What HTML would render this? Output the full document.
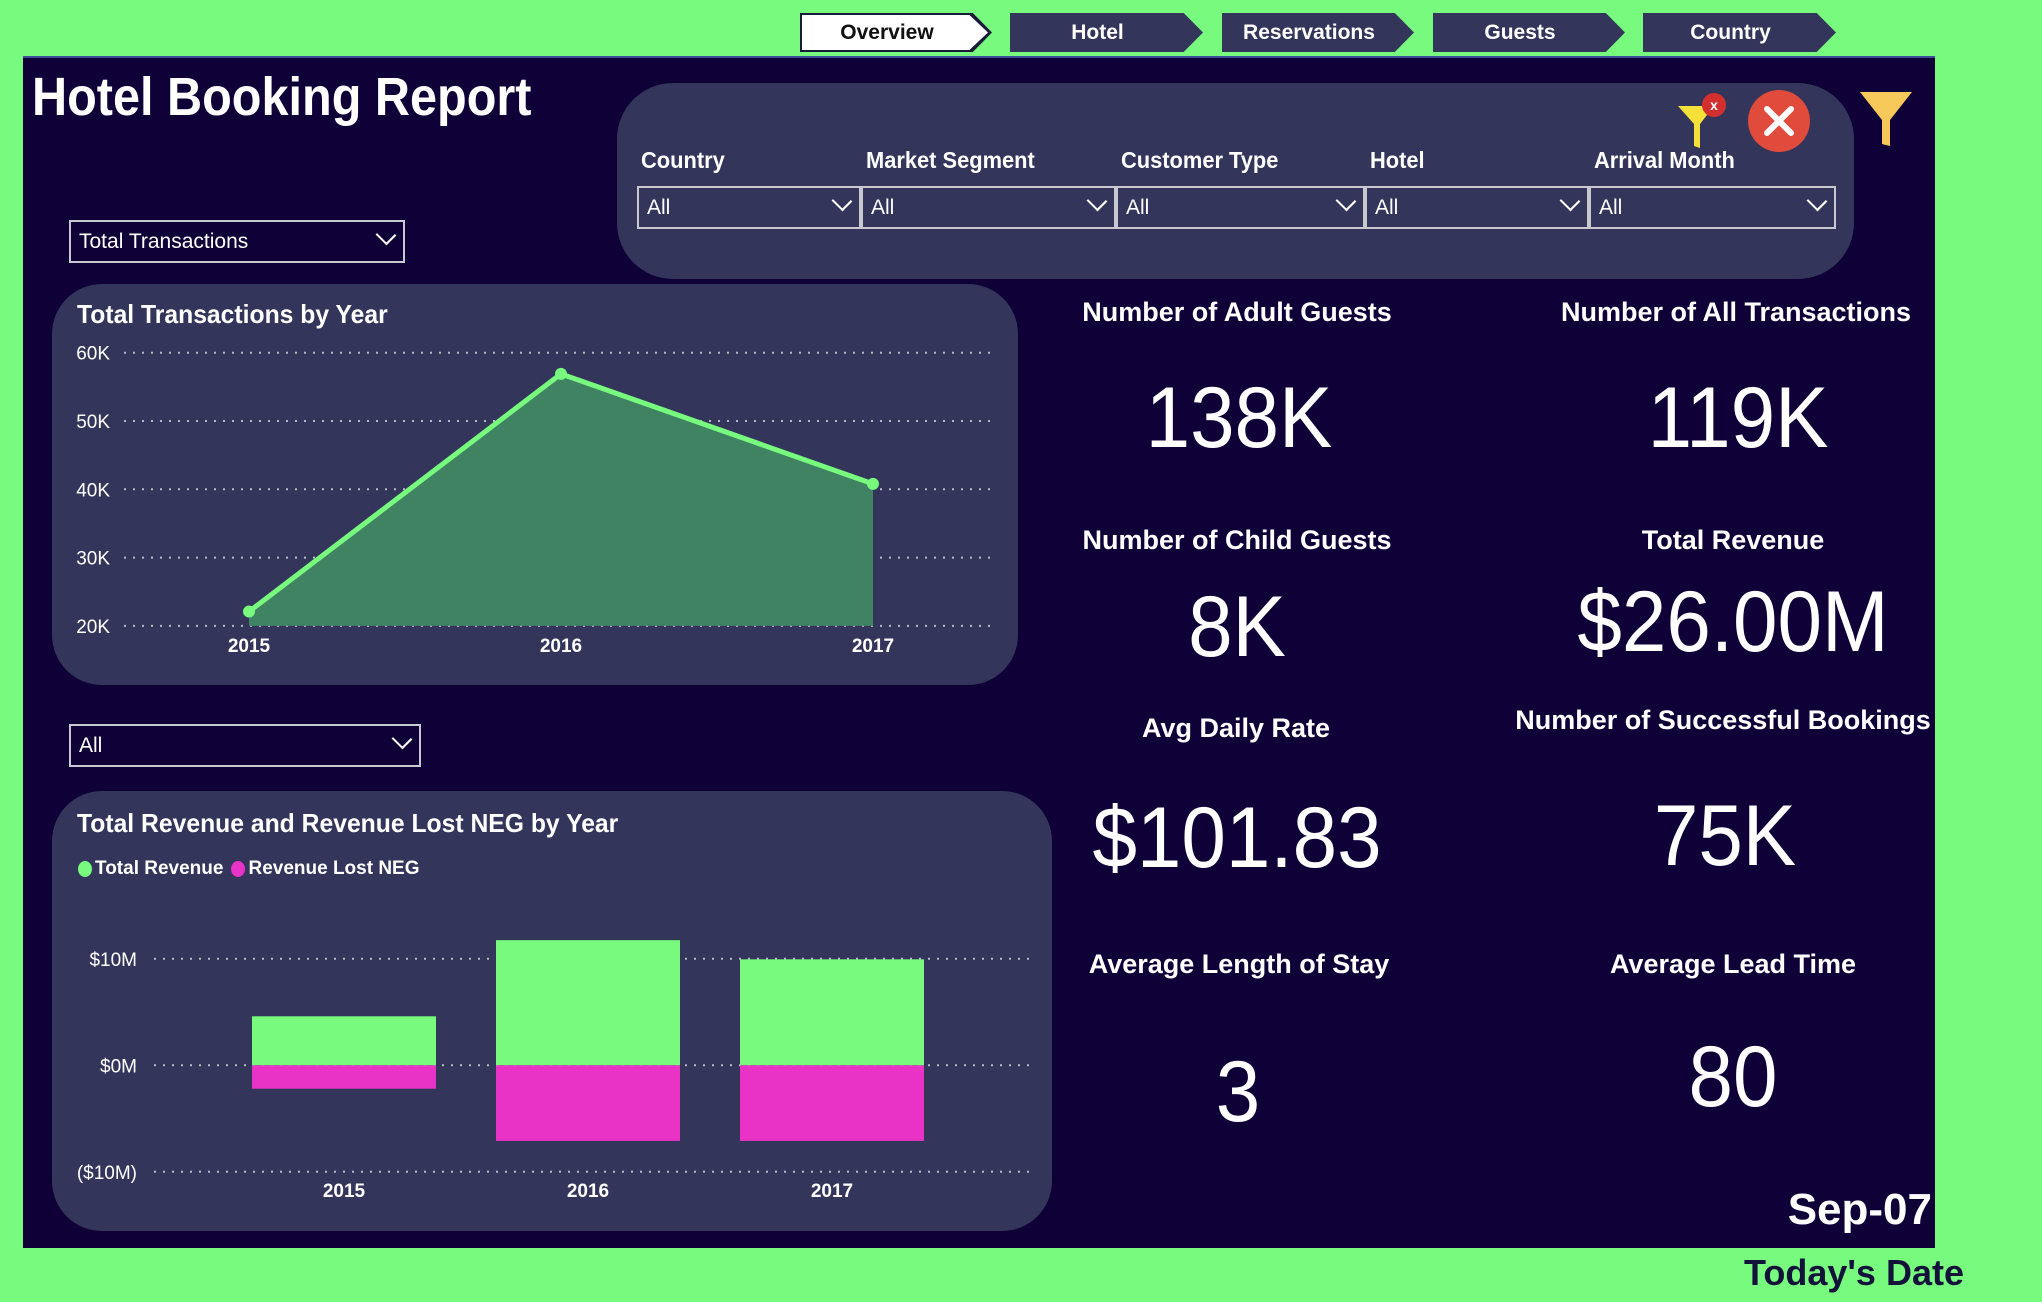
<!DOCTYPE html>
<html><head><meta charset="utf-8">
<style>
*{margin:0;padding:0;box-sizing:border-box}
body{width:2042px;height:1302px;background:#77fa7d;position:relative;overflow:hidden;font-family:"Liberation Sans",sans-serif;color:#fff}
.abs{position:absolute}
.narrow{font-family:"Liberation Sans Narrow","Liberation Sans",sans-serif;font-weight:bold}
.tab{position:absolute;top:13px;height:39px;background:#33365a;clip-path:polygon(0 0,90% 0,100% 50%,90% 100%,0 100%);display:flex;align-items:center;justify-content:center;padding-right:18px;font-weight:bold;font-size:21px;color:#fff}
.tab.active{background:#1a1a3a}
.tab.active .in{position:absolute;left:2px;top:2px;right:4px;bottom:2px;background:#fff;clip-path:polygon(0 0,90% 0,100% 50%,90% 100%,0 100%)}
.tab span{position:relative}
.flabel{position:absolute;top:147px;font-size:23px;transform:scaleX(0.95);transform-origin:left}
.dd{position:absolute;top:186px;height:43px;border:2px solid #c8c8d0;font-size:21px;padding:8px 8px;}
.chev{position:absolute;right:10px;top:12px;width:14px;height:14px;border-right:2px solid #fff;border-bottom:2px solid #fff;transform:rotate(45deg) scaleX(1.1);transform-origin:center;top:6px}
.kl{position:absolute;font-weight:bold;font-size:27px;text-align:center;width:500px;margin-left:-250px}
.kv{position:absolute;font-size:86px;text-align:center;width:500px;margin-left:-250px;line-height:1;transform:scaleX(0.93)}
</style></head><body>
<div class="tab active" style="left:800px;width:192px"><div class="in"></div><span style="color:#111">Overview</span></div>
<div class="tab" style="left:1010px;width:193px"><span>Hotel</span></div>
<div class="tab" style="left:1222px;width:192px"><span>Reservations</span></div>
<div class="tab" style="left:1433px;width:192px"><span>Guests</span></div>
<div class="tab" style="left:1643px;width:193px"><span>Country</span></div>

<div class="abs" style="left:23px;top:56px;width:1912px;height:1192px;background:#0f0038;border-top:2px solid #3b4f9a"></div>
<div class="abs narrow" style="left:32px;top:66px;font-size:54px;transform:scaleX(0.9);transform-origin:left">Hotel Booking Report</div>

<div class="abs" style="left:617px;top:83px;width:1237px;height:196px;background:#33365a;border-radius:56px"></div>
<div class="flabel narrow" style="left:641px">Country</div>
<div class="flabel narrow" style="left:866px">Market Segment</div>
<div class="flabel narrow" style="left:1121px">Customer Type</div>
<div class="flabel narrow" style="left:1370px">Hotel</div>
<div class="flabel narrow" style="left:1594px">Arrival Month</div>
<div class="dd" style="left:637px;width:224px">All<div class="chev"></div></div>
<div class="dd" style="left:861px;width:255px">All<div class="chev"></div></div>
<div class="dd" style="left:1116px;width:249px">All<div class="chev"></div></div>
<div class="dd" style="left:1365px;width:224px">All<div class="chev"></div></div>
<div class="dd" style="left:1589px;width:247px">All<div class="chev"></div></div>

<svg class="abs" style="left:1670px;top:88px" width="260" height="64">
 <g><polygon points="8,18 44,18 30,36 30,60 24,58 24,36" fill="#f5e13a"/><circle cx="44" cy="17" r="12" fill="#d32f2f"/><text x="44" y="22" font-size="14" font-weight="bold" text-anchor="middle" fill="#fff">x</text></g>
 <g><circle cx="109" cy="33" r="31" fill="#e04b3c"/><path d="M97 21 L121 45 M121 21 L97 45" stroke="#fff" stroke-width="6" stroke-linecap="round"/></g>
 <g><polygon points="190,4 242,4 220,32 220,58 212,56 212,32" fill="#f6c95a"/></g>
</svg>

<div class="dd" style="left:69px;top:220px;width:336px;height:43px;font-size:21px">Total Transactions<div class="chev"></div></div>
<div class="dd" style="left:69px;top:724px;width:352px;height:43px;font-size:21px">All<div class="chev"></div></div>

<div class="abs" style="left:52px;top:284px;width:966px;height:401px;background:#33365a;border-radius:50px"></div>
<div class="abs narrow" style="left:77px;top:299px;font-size:26px;transform:scaleX(0.95);transform-origin:left">Total Transactions by Year</div>
<div class="abs" style="left:52px;top:791px;width:1000px;height:440px;background:#33365a;border-radius:50px"></div>
<div class="abs narrow" style="left:77px;top:808px;font-size:26px;transform:scaleX(0.95);transform-origin:left">Total Revenue and Revenue Lost NEG by Year</div>
<div class="abs narrow" style="left:78px;top:858px;font-size:19px;display:flex;align-items:center">
 <span style="width:14px;height:16px;border-radius:50%;background:#77fa7d;display:inline-block;margin-right:3px"></span><span>Total Revenue</span>
 <span style="width:14px;height:16px;border-radius:50%;background:#e932c6;display:inline-block;margin:0 3px 0 8px"></span><span>Revenue Lost NEG</span>
</div>

<svg id="charts" class="abs" style="left:0;top:0" width="2042" height="1302"></svg>

<div class="kl" style="left:1237px;top:297px">Number of Adult Guests</div>
<div class="kv" style="left:1239px;top:375px">138K</div>
<div class="kl" style="left:1736px;top:297px">Number of All Transactions</div>
<div class="kv" style="left:1738px;top:375px">119K</div>
<div class="kl" style="left:1237px;top:525px">Number of Child Guests</div>
<div class="kv" style="left:1237px;top:584px">8K</div>
<div class="kl" style="left:1733px;top:525px">Total Revenue</div>
<div class="kv" style="left:1733px;top:579px">$26.00M</div>
<div class="kl" style="left:1236px;top:713px">Avg Daily Rate</div>
<div class="kv" style="left:1237px;top:795px">$101.83</div>
<div class="kl" style="left:1723px;top:705px">Number of Successful Bookings</div>
<div class="kv" style="left:1725px;top:793px">75K</div>
<div class="kl" style="left:1239px;top:949px">Average Length of Stay</div>
<div class="kv" style="left:1238px;top:1049px">3</div>
<div class="kl" style="left:1733px;top:949px">Average Lead Time</div>
<div class="kv" style="left:1733px;top:1034px">80</div>

<div class="abs" style="right:110px;top:1185px;font-weight:bold;font-size:44px">Sep-07</div>
<div class="abs" style="right:78px;top:1252px;font-weight:bold;font-size:36px;color:#12123a">Today's Date</div>

<script>
const years = ["2015","2016","2017"];
const transactions = [22.1, 56.9, 40.8];
const txTicks = [20, 30, 40, 50, 60];
const txTickLabels = ["20K","30K","40K","50K","60K"];
const revenue = [4.6, 11.75, 9.95];
const revenueLost = [-2.2, -7.1, -7.1];
const revTicks = [10, 0, -10];
const revTickLabels = ["$10M","$0M","($10M)"];

const svg = document.getElementById('charts');
const NS = 'http://www.w3.org/2000/svg';
function mk(tag, attrs){const e=document.createElementNS(NS,tag);for(const k in attrs)e.setAttribute(k,attrs[k]);svg.appendChild(e);return e;}

const lx = i => 249 + i*312;
const ly = v => 625.9 - (v-20)*6.83;
txTicks.forEach((t,i)=>{
  const g = mk('line',{x1:124,x2:992,y1:ly(t),y2:ly(t),stroke:'#b8b8c8','stroke-width':2,'stroke-dasharray':'2 7'});
  
  
  const tx = mk('text',{x:110,y:ly(t)+7,'text-anchor':'end','font-size':19,fill:'#fff'});
  tx.textContent = txTickLabels[i];
  
  
});
let pts = transactions.map((v,i)=>lx(i)+','+ly(v)).join(' ');
const area = mk('polygon',{points:lx(0)+','+ly(20)+' '+pts+' '+lx(transactions.length-1)+','+ly(20),fill:'#3f8363'});


const line = mk('polyline',{points:pts,fill:'none',stroke:'#77fa7d','stroke-width':5});


transactions.forEach((v,i)=>{
  const c = mk('circle',{cx:lx(i),cy:ly(v),r:6,fill:'#77fa7d'});
  
  
  const t = mk('text',{x:lx(i),y:652,'text-anchor':'middle','font-size':19,'font-weight':'bold',fill:'#fff'});
  t.textContent = years[i];
  
  
});

const bx = i => 344 + i*244;
const by = v => 1065.3 - v*10.65;
const bw = 184;
revTicks.forEach((t,i)=>{
  const g = mk('line',{x1:154,x2:1029,y1:by(t),y2:by(t),stroke:'#b8b8c8','stroke-width':2,'stroke-dasharray':'2 7'});
  
  
  const tx = mk('text',{x:137,y:by(t)+7,'text-anchor':'end','font-size':19,fill:'#fff'});
  tx.textContent = revTickLabels[i];
  
  
});
years.forEach((y,i)=>{
  const r = mk('rect',{x:bx(i)-bw/2,y:by(revenue[i]),width:bw,height:by(0)-by(revenue[i]),fill:'#77fa7d'});
  
  
  const l = mk('rect',{x:bx(i)-bw/2,y:by(0),width:bw,height:by(revenueLost[i])-by(0),fill:'#e932c6'});
  
  
  const t = mk('text',{x:bx(i),y:1197,'text-anchor':'middle','font-size':19,'font-weight':'bold',fill:'#fff'});
  t.textContent = y;
  
  
});
</script>
</body></html>
